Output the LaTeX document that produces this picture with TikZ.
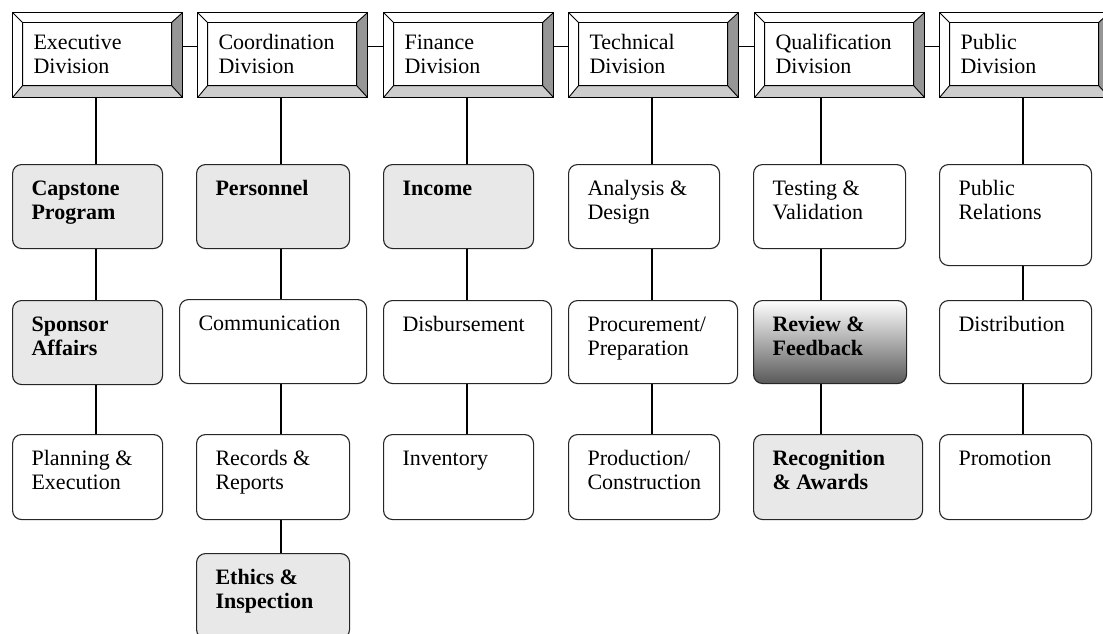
\documentclass[tikz,border=0pt]{standalone}
\usepackage{fontspec}
\setmainfont{Liberation Serif}
\usetikzlibrary{calc}

\definecolor{unitfill}{RGB}{232,232,232}
\definecolor{bevdark}{RGB}{150,150,150}
\definecolor{bevlight}{RGB}{205,205,205}

% text block of a box: #1 width, #2 height of the whole box (px = pt)
\newcommand{\unittext}[3]{\parbox[t][\dimexpr#2pt-28pt\relax][t]{\dimexpr#1pt-38pt\relax}{\hyphenpenalty=10000\strut#3}}
\newcommand{\divtext}[1]{\parbox[t][44.6pt][t]{128pt}{\hyphenpenalty=10000\strut#1}}

\begin{document}
\begin{tikzpicture}[
    x=1pt,y=-1pt,
    division/.style={draw,line width=1.1pt,anchor=north west,inner xsep=21pt,
                     inner ysep=20.2pt,font=\fontsize{22}{24}\selectfont,
        path picture={
            \coordinate (pNW) at (path picture bounding box.north west);
            \coordinate (pNE) at (path picture bounding box.north east);
            \coordinate (pSE) at (path picture bounding box.south east);
            \coordinate (pSW) at (path picture bounding box.south west);
            \coordinate (qNW) at ($(pNW)+(10pt,-10pt)$);
            \coordinate (qNE) at ($(pNE)+(-11pt,-10pt)$);
            \coordinate (qSE) at ($(pSE)+(-11pt,12pt)$);
            \coordinate (qSW) at ($(pSW)+(10pt,12pt)$);
            \fill[bevdark] (pNE) -- (pSE) -- (qSE) -- (qNE) -- cycle;
            \fill[bevlight] (pSW) -- (pSE) -- (qSE) -- (qSW) -- cycle;
            \draw[line width=0.9pt] (qNW) rectangle (qSE)
                (pNW) -- (qNW) (pNE) -- (qNE) (pSE) -- (qSE) (pSW) -- (qSW);
        }},
    unit/.style={draw=black!85,line width=1.1pt,rounded corners=9pt,fill=white,
                 anchor=north west,inner xsep=19pt,inner ysep=14pt,
                 font=\fontsize{22}{24}\selectfont},
    unitkey/.style={unit,fill=unitfill,font=\fontsize{22}{24}\selectfont\bfseries},
    unitshade/.style={unit,top color=white,bottom color=black!65,
                      font=\fontsize{22}{24}\selectfont\bfseries},
    link/.style={line width=1.1pt},
]
\useasboundingbox (0,0) rectangle (1103,634);
\clip (0,0) rectangle (1103,634);

% ---- Divisions -----------------------------------------------------------
\node[division] (execDiv)  at (12,12)  {\divtext{Executive\\Division}};
\node[division] (coordDiv) at (197,12) {\divtext{Coordination\\Division}};
\node[division] (finDiv)   at (383,12) {\divtext{Finance\\Division}};
\node[division] (techDiv)  at (568,12) {\divtext{Technical\\Division}};
\node[division] (qualDiv)  at (754,12) {\divtext{Qualification\\Division}};
\node[division] (pubDiv)   at (939,12) {\divtext{Public\\Division}};

\foreach \a/\b in {execDiv/coordDiv,coordDiv/finDiv,finDiv/techDiv,
                   techDiv/qualDiv,qualDiv/pubDiv}
    \draw[link] ([yshift=8.5pt]\a.east) -- ([yshift=8.5pt]\b.west);

% ---- column x positions ---------------------------------------------------
\coordinate (colExec)  at (96,0);
\coordinate (colCoord) at (281,0);
\coordinate (colFin)   at (467,0);
\coordinate (colTech)  at (652,0);
\coordinate (colQual)  at (821,0);
\coordinate (colPub)   at (1023,0);

% ---- Executive -----------------------------------------------------------
\node[unitkey] (capstone) at (12,164) {\unittext{150}{84}{Capstone\\Program}};
\node[unitkey] (sponsor)  at (12,300) {\unittext{150}{84}{Sponsor\\Affairs}};
\node[unit]    (planning) at (12,434) {\unittext{150}{85}{Planning \&\\Execution}};

% ---- Coordination --------------------------------------------------------
\node[unitkey] (personnel) at (196,164) {\unittext{153}{84}{Personnel}};
\node[unit]    (communic)  at (179,299) {\unittext{187}{84}{Communication}};
\node[unit]    (records)   at (196,434) {\unittext{153}{85}{Records \&\\Reports}};
\node[unitkey] (ethics)    at (196,553) {\unittext{153}{85}{Ethics \&\\Inspection}};

% ---- Finance -------------------------------------------------------------
\node[unitkey] (income)    at (383,164) {\unittext{150}{84}{Income}};
\node[unit]    (disburse)  at (383,300) {\unittext{168}{83}{Disbursement}};
\node[unit]    (inventory) at (383,434) {\unittext{150}{85}{Inventory}};

% ---- Technical -----------------------------------------------------------
\node[unit] (analysis)   at (568,164) {\unittext{151}{84}{Analysis \&\\Design}};
\node[unit] (procure)    at (568,300) {\unittext{169}{83}{Procurement/\\Preparation}};
\node[unit] (production) at (568,434) {\unittext{151}{85}{Production/\\Construction}};

% ---- Qualification -------------------------------------------------------
\node[unit]      (testing) at (753,164) {\unittext{152}{84}{Testing \&\\Validation}};
\node[unitshade] (review)  at (753,300) {\unittext{153}{83}{Review \&\\Feedback}};
\node[unitkey]   (recogn)  at (753,434) {\unittext{169}{85}{Recognition\\\& Awards}};

% ---- Public --------------------------------------------------------------
\node[unit] (pubrel)    at (939,164) {\unittext{152}{101}{Public\\Relations}};
\node[unit] (distrib)   at (939,300) {\unittext{152}{83}{Distribution}};
\node[unit] (promotion) at (939,434) {\unittext{152}{85}{Promotion}};

% ---- vertical links ------------------------------------------------------
\foreach \col/\a/\b in {colExec/execDiv/capstone,colExec/capstone/sponsor,
        colExec/sponsor/planning,
        colCoord/coordDiv/personnel,colCoord/personnel/communic,
        colCoord/communic/records,colCoord/records/ethics,
        colFin/finDiv/income,colFin/income/disburse,colFin/disburse/inventory,
        colTech/techDiv/analysis,colTech/analysis/procure,
        colTech/procure/production,
        colQual/qualDiv/testing,colQual/testing/review,colQual/review/recogn,
        colPub/pubDiv/pubrel,colPub/pubrel/distrib,colPub/distrib/promotion}
    \draw[link] (\a.south -| \col) -- (\b.north -| \col);

\end{tikzpicture}
\end{document}
